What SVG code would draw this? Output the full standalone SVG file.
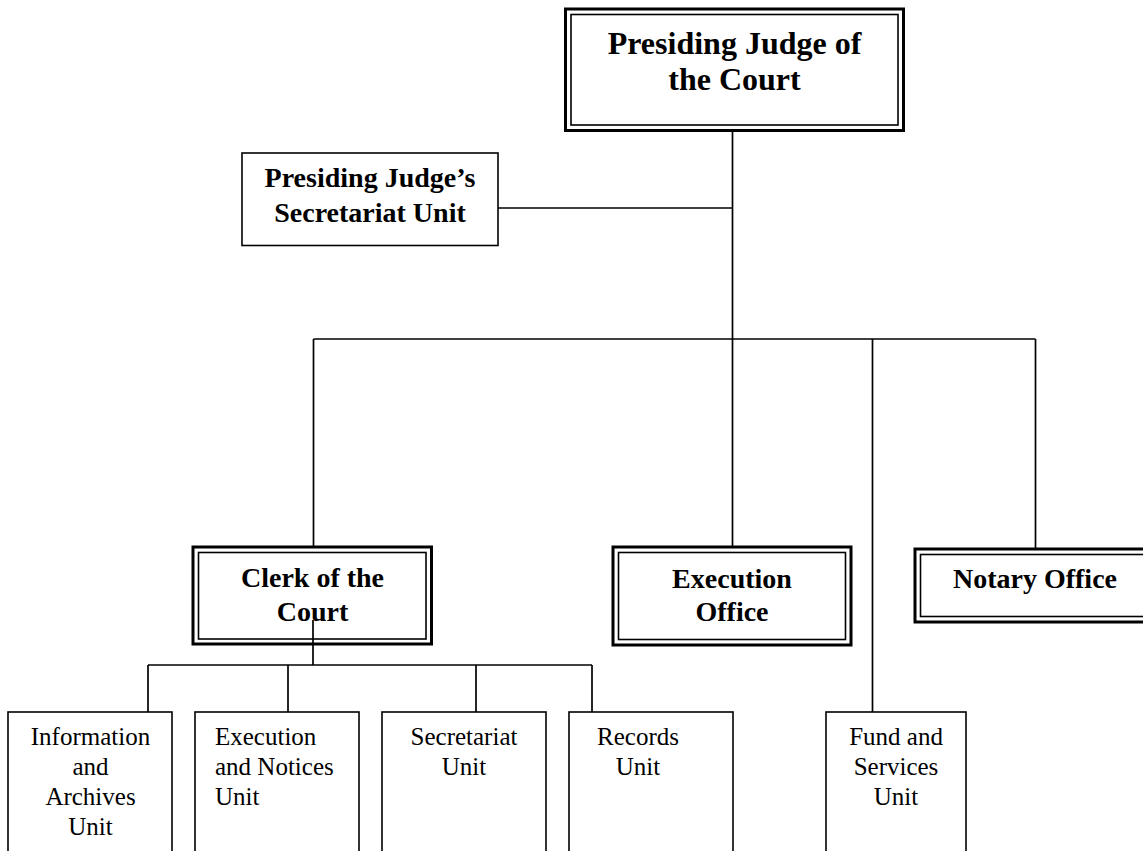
<svg xmlns="http://www.w3.org/2000/svg" width="1143" height="851" viewBox="0 0 1143 851">
<style>
.bg{fill:#fff}
.outer{fill:none;stroke:#000;stroke-width:3}
.inner{fill:none;stroke:#000;stroke-width:1.6}
.box{fill:none;stroke:#000;stroke-width:1.6}
.conn line{stroke:#000;stroke-width:1.7}
.b{font-family:"Liberation Serif","Times New Roman",serif;font-weight:bold;fill:#000}
.r{font-family:"Liberation Serif","Times New Roman",serif;font-size:25px;fill:#000}
.c{text-anchor:middle}
</style>
<rect class="bg" width="1143" height="851"/>
<g id="connectors" class="conn">
<line x1="732.5" y1="131" x2="732.5" y2="547"/>
<line x1="498" y1="208" x2="732.5" y2="208"/>
<line x1="313.5" y1="339" x2="1035.5" y2="339"/>
<line x1="313.5" y1="339" x2="313.5" y2="547"/>
<line x1="872.5" y1="339" x2="872.5" y2="712"/>
<line x1="1035.5" y1="339" x2="1035.5" y2="549"/>
<line x1="313" y1="620" x2="313" y2="665"/>
<line x1="148" y1="665" x2="592" y2="665"/>
<line x1="148" y1="665" x2="148" y2="712"/>
<line x1="288" y1="665" x2="288" y2="712"/>
<line x1="476" y1="665" x2="476" y2="712"/>
<line x1="592" y1="665" x2="592" y2="712"/>
</g>
<g id="presiding-judge">
<rect class="outer" x="565.5" y="9" width="338" height="121.5"/>
<rect class="inner" x="571" y="14.5" width="327" height="110.5"/>
<text class="b c" font-size="32" x="734.5" y="54">Presiding Judge of</text>
<text class="b c" font-size="32" x="734.5" y="90">the Court</text>
</g>
<g id="secretariat-unit-pj">
<rect class="box" x="242" y="153" width="256" height="92.5"/>
<text class="b c" font-size="28" x="370" y="187">Presiding Judge’s</text>
<text class="b c" font-size="28" x="370" y="222">Secretariat Unit</text>
</g>
<g id="clerk">
<rect class="outer" x="193" y="547" width="238.5" height="97"/>
<rect class="inner" x="198.5" y="552.5" width="227.5" height="86.5"/>
<text class="b c" font-size="28" x="312.5" y="587">Clerk of the</text>
<text class="b c" font-size="28" x="312.5" y="621">Court</text>
</g>
<g id="execution-office">
<rect class="outer" x="613" y="547" width="238" height="98"/>
<rect class="inner" x="618.5" y="552.5" width="227" height="87"/>
<text class="b c" font-size="28" x="732" y="588">Execution</text>
<text class="b c" font-size="28" x="732" y="621">Office</text>
</g>
<g id="notary-office">
<rect class="outer" x="915" y="549" width="240" height="73"/>
<rect class="inner" x="920.5" y="554.5" width="229" height="62"/>
<text class="b c" font-size="28" x="1035" y="588">Notary Office</text>
</g>
<g id="info-archives">
<rect class="box" x="8" y="712" width="164" height="150"/>
<text class="r c" x="90.5" y="745">Information</text>
<text class="r c" x="90.5" y="775">and</text>
<text class="r c" x="90.5" y="805">Archives</text>
<text class="r c" x="90.5" y="835">Unit</text>
</g>
<g id="execution-notices">
<rect class="box" x="195" y="712" width="164" height="150"/>
<text class="r" x="215" y="745">Execution</text>
<text class="r" x="215" y="775">and Notices</text>
<text class="r" x="215" y="805">Unit</text>
</g>
<g id="secretariat-unit">
<rect class="box" x="382" y="712" width="164" height="150"/>
<text class="r c" x="464" y="745">Secretariat</text>
<text class="r c" x="464" y="775">Unit</text>
</g>
<g id="records-unit">
<rect class="box" x="569" y="712" width="164" height="150"/>
<text class="r c" x="638" y="745">Records</text>
<text class="r c" x="638" y="775">Unit</text>
</g>
<g id="fund-services">
<rect class="box" x="826" y="712" width="140" height="150"/>
<text class="r c" x="896" y="745">Fund and</text>
<text class="r c" x="896" y="775">Services</text>
<text class="r c" x="896" y="805">Unit</text>
</g>
</svg>
